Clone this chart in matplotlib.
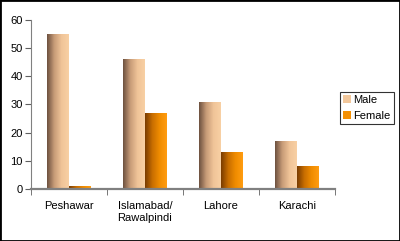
import numpy as np
import matplotlib.pyplot as plt
from matplotlib.colors import LinearSegmentedColormap
from matplotlib.patches import Rectangle

plt.rcParams['font.family'] = ['Liberation Sans', 'DejaVu Sans']

cities = ['Peshawar', 'Islamabad/\nRawalpindi', 'Lahore', 'Karachi']
male = [55, 46, 31, 17]
female = [1, 27, 13, 8]

male_cmap = LinearSegmentedColormap.from_list('m', ['#6e5240', '#c89c78', '#f0c498', '#f8d0a4'])
female_cmap = LinearSegmentedColormap.from_list('f', ['#7a3c00', '#c86e00', '#f08c00', '#ff9c10'])

fig = plt.figure(figsize=(4, 2.41), dpi=100)
fig.patches.append(Rectangle((0, 0), 1, 1, transform=fig.transFigure, fill=False,
                             edgecolor='black', linewidth=2))
ax = fig.add_axes([0.0775, 0.216, 0.76, 0.701])

x = np.arange(len(cities))
w = 0.285
grad = np.linspace(0, 1, 64).reshape(1, -1)

def gradient_bars(xs, vals, cmap, label):
    bars = ax.bar(xs, vals, w, color=cmap(0.75), label=label, linewidth=0)
    for b in bars:
        x0, y0 = b.get_x(), b.get_y()
        im = ax.imshow(grad, cmap=cmap, aspect='auto', extent=(x0, x0 + b.get_width(), y0, y0 + b.get_height()),
                       zorder=2)
        im.set_clip_path(b)
    return bars

gradient_bars(x - w / 2, male, male_cmap, 'Male')
gradient_bars(x + w / 2, female, female_cmap, 'Female')

ax.set_xlim(-0.5, 3.5)
ax.set_ylim(0, 60)
ax.set_yticks(range(0, 61, 10))
ax.set_xticks(x)
ax.set_xticklabels(cities, fontsize=8)
ax.set_xticks(np.arange(-0.5, 4, 1), minor=True)
ax.tick_params(axis='x', which='major', length=0, pad=9)
ax.tick_params(axis='x', which='minor', length=4, color='#606060')
ax.tick_params(axis='y', labelsize=8, length=4, color='#606060', pad=2)
for s in ['top', 'right']:
    ax.spines[s].set_visible(False)
for s in ['left', 'bottom']:
    ax.spines[s].set_color('#808080')
ax.spines['bottom'].set_linewidth(1.6)

leg = ax.legend(loc='center left', bbox_to_anchor=(1.015, 0.48), fontsize=8, frameon=True,
                fancybox=False, edgecolor='black', handlelength=0.7, handleheight=0.7,
                handletextpad=0.25, borderpad=0.3, labelspacing=0.5, borderaxespad=0)
leg.get_frame().set_linewidth(0.8)

fig.savefig('out.png', dpi=100)
